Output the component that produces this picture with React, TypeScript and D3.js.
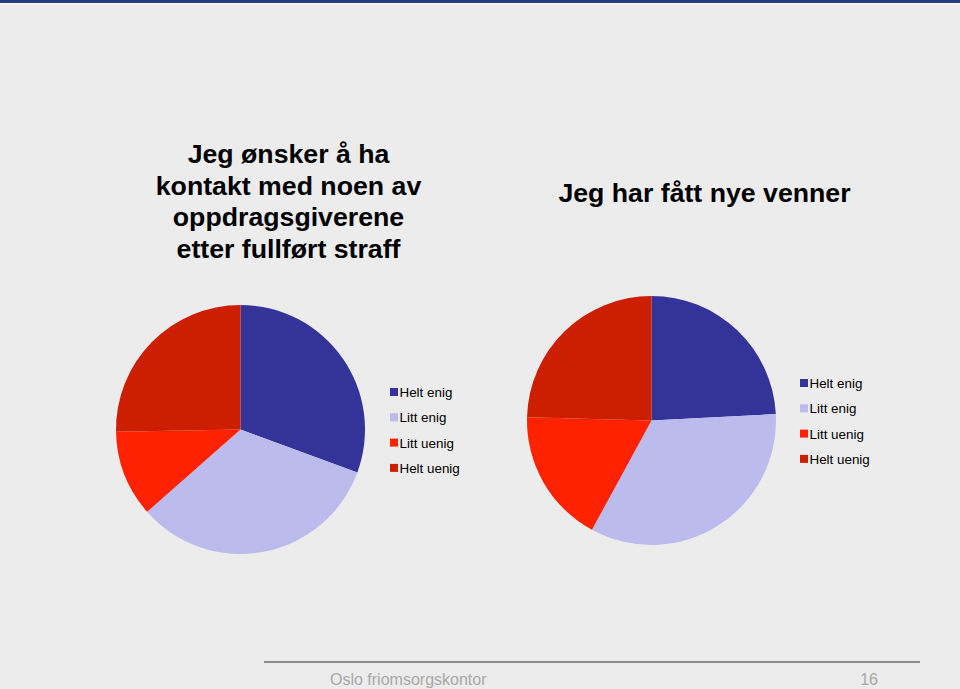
import React from "react";
import * as d3 from "d3";

const categories = ["Helt enig", "Litt enig", "Litt uenig", "Helt uenig"];
const colors = ["#333399", "#bbbbee", "#ff2200", "#cc1e00"];
const pie1Values = [30.6, 32.9, 11.2, 25.3];
const pie2Values = [24.2, 33.8, 17.5, 24.6];
const title1Lines = ["Jeg ønsker å ha", "kontakt med noen av", "oppdragsgiverene", "etter fullført straff"];
const title2Lines = ["Jeg har fått nye venner"];
const footerText = "Oslo friomsorgskontor";
const pageNumber = "16";

const W = 960;
const H = 689;

function Pie({ values, cx, cy, r }: { values: number[]; cx: number; cy: number; r: number }) {
  const arcs = d3.pie<number>().sort(null).value((d) => d)(values);
  const arcGen = d3.arc<d3.PieArcDatum<number>>().innerRadius(0).outerRadius(r);
  return (
    <g transform={`translate(${cx},${cy})`}>
      {arcs.map((a, i) => (
        <path key={i} d={arcGen(a) || ""} fill={colors[i]} />
      ))}
    </g>
  );
}

function Legend({ x, y }: { x: number; y: number }) {
  return (
    <g transform={`translate(${x},${y})`}>
      {categories.map((c, i) => (
        <g key={c} transform={`translate(0,${i * 25.3})`}>
          <rect x={0} y={-4} width={8} height={8} fill={colors[i]} />
          <text x={9.5} y={5} fontSize={13.4} fontFamily="Liberation Sans, Arial, sans-serif" fill="#000">
            {c}
          </text>
        </g>
      ))}
    </g>
  );
}

export default function App() {
  return (
    <svg
      width={W}
      height={H}
      style={{ position: "absolute", left: 0, top: 0, display: "block" }}
    >
      <rect x={0} y={0} width={W} height={H} fill="#ececec" />
      <rect x={0} y={0} width={W} height={3} fill="#243e80" />
      <rect x={0} y={3} width={W} height={1.5} fill="#f8f8fb" />

      <g fontFamily="Liberation Sans, Arial, sans-serif" fontWeight="bold" fontSize={26.7} fill="#000" textAnchor="middle">
        {title1Lines.map((l, i) => (
          <text key={i} x={288.5} y={163 + i * 31.5}>
            {l}
          </text>
        ))}
        {title2Lines.map((l, i) => (
          <text key={i} x={704.5} y={202 + i * 31.5}>
            {l}
          </text>
        ))}
      </g>

      <Pie values={pie1Values} cx={240.5} cy={429.5} r={124.5} />
      <Pie values={pie2Values} cx={651.5} cy={420.5} r={124.5} />

      <Legend x={390} y={392} />
      <Legend x={800} y={383} />

      <line x1={264} x2={920} y1={662} y2={662} stroke="#8c8c8c" strokeWidth={2} />
      <text x={330} y={685} fontSize={16} fontFamily="Liberation Sans, Arial, sans-serif" fill="#a8a8a8">
        {footerText}
      </text>
      <text x={878} y={685} fontSize={16} textAnchor="end" fontFamily="Liberation Sans, Arial, sans-serif" fill="#a8a8a8">
        {pageNumber}
      </text>
    </svg>
  );
}
